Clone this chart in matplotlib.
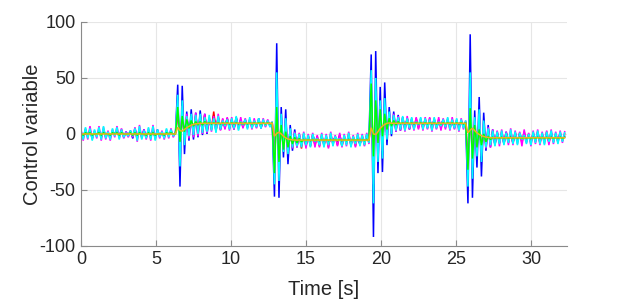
import numpy as np
import matplotlib
matplotlib.use("Agg")
import matplotlib.pyplot as plt

plt.rcParams['font.family'] = ['Liberation Sans', 'DejaVu Sans']
plt.rcParams['axes.unicode_minus'] = False

dt = 0.15
x_ticks = [0, 5, 10, 15, 20, 25, 30]
y_ticks = [-100, -50, 0, 50, 100]
x_label = "Time [s]"
y_label = "Control variable"

blue = [1, -3, 4, -2, 3, -4, 2, -1, 3, -3, 4, -2, 1, -3, 2, 0, 3, -2, 4, -3, 2, -1, 3, -4, 5, -3, 2, -2, 4, -3, 3, -1, 2, -3, 4, -2, 1, -2, 3, -1, 2, -1, 1,
        44, -47, 43, -18, 20, -6, 22, -5, 19, -3, 21, -1, 18, 0, 13, 5, 17, 3, 15, 4, 11, 7, 14, 5, 13, 4, 15, 6, 10, 8, 13, 6, 12, 7, 11, 6, 14, 5, 11, 8, 12, 7, 10,
        -56, 81, -57, 24, -21, 22, -27, 8, -15, 4, -12, 0, -10, -1, -11, -2, -9, -1, -6, -4, -8, -2, -9, -3, -8, -5, -6, -3, -7, -1, -9, -3, -8, -2, -9, -4, -6, -5, -9, -3, -7, -2, -6,
        71, -92, 74, -35, 42, -34, 46, -10, 24, -2, 20, 2, 17, 3, 15, 5, 14, 4, 13, 6, 11, 8, 12, 6, 13, 5, 12, 7, 13, 6, 10, 8, 13, 6, 12, 7, 11, 5, 12, 6, 12, 7, 10,
        -62, 89, -57, 21, -30, 33, -38, 19, -15, 8, -12, 4, -10, 2, -8, 1, -9, 2, -7, 0, -8, 1, -6, 0, -4, -2, -6, -1, -7, 0, -6, 1, -7, -1, -6, 0, -7, 1, -6, -1, -5, 0, -5, -2]

red = [2, -3, 3, -2, 4, -3, 2, -2, 4, -3, 3, -3, 2, -3, 3, -1, 4, -3, 3, -2, 1, -2, 2, -1, 3, -4, 4, -3, 2, -3, 3, -3, 4, -3, 2, -2, 2, -3, 2, -2, 3, -2, 1,
       20, -12, 18, -3, 15, 0, 14, 1, 16, 2, 15, 2, 17, 3, 14, 4, 20, 3, 15, 4, 13, 5, 14, 5, 13, 5, 14, 6, 13, 6, 12, 6, 13, 6, 12, 7, 12, 7, 12, 7, 11, 8, 10,
       -20, 25, -18, 10, -10, 8, -12, 2, -11, 0, -10, -1, -13, 0, -10, -2, -11, -1, -10, -2, -11, -1, -10, -2, -12, 0, -9, -2, -10, -1, -11, -2, -9, 0, -10, -2, -11, -1, -9, -2, -10, -1, -8,
       28, -30, 25, -10, 18, -8, 18, 0, 16, 3, 15, 4, 14, 5, 13, 4, 14, 5, 13, 5, 14, 5, 13, 5, 13, 6, 14, 4, 13, 5, 13, 5, 12, 6, 13, 5, 13, 6, 12, 5, 12, 6, 11,
       -25, 28, -20, 8, -12, 12, -14, 6, -10, 3, -9, 2, -9, 1, -8, 2, -8, 1, -8, 2, -8, 1, -7, 1, -8, 2, -7, 0, -8, 1, -7, 2, -8, 0, -7, 2, -8, 1, -7, 0, -7, 1, -6, 0]

magenta = [4, -6, 5, -5, 7, -5, 3, -4, 7, -6, 6, -5, 3, -6, 4, -3, 7, -4, 5, -4, 2, -3, 2, -3, 6, -7, 8, -4, 4, -5, 5, -6, 8, -5, 3, -4, 3, -5, 4, -4, 5, -3, 1,
           30, -22, 25, -8, 18, -4, 16, -3, 19, -2, 17, 0, 18, 1, 15, 2, 16, 2, 18, 3, 14, 4, 15, 3, 15, 4, 14, 4, 15, 5, 14, 5, 13, 4, 14, 5, 13, 6, 14, 6, 13, 7, 11,
           -35, 40, -30, 14, -14, 12, -16, 4, -13, 2, -12, 1, -11, 2, -13, 0, -11, 1, -12, -1, -12, 1, -11, 0, -13, 2, -10, -1, -11, 1, -12, 0, -11, 2, -11, -1, -12, 1, -10, 0, -11, 1, -9,
           40, -45, 38, -18, 25, -15, 24, -3, 18, 1, 18, 2, 16, 3, 15, 2, 16, 4, 14, 3, 15, 4, 14, 3, 15, 4, 15, 2, 14, 4, 15, 3, 14, 4, 14, 3, 15, 4, 13, 2, 14, 4, 12,
           -35, 40, -30, 12, -16, 18, -20, 10, -13, 6, -12, 4, -10, 3, -11, 4, -9, 2, -10, 5, -10, 3, -9, 2, -11, 4, -8, 1, -11, 3, -9, 4, -10, 2, -9, 3, -10, 4, -9, 2, -8, 3, -8, 2]

cyan = [3, -5, 6, -4, 5, -6, 4, -3, 6, -5, 7, -4, 2, -5, 5, -2, 6, -5, 4, -3, 1, -2, 3, -2, 5, -6, 7, -5, 3, -4, 6, -5, 7, -6, 4, -3, 2, -4, 5, -3, 4, -2, 1,
        35, -29, 30, -10, 16, -2, 18, -1, 17, 0, 18, 1, 15, 2, 17, 3, 14, 1, 16, 4, 12, 7, 13, 4, 14, 5, 16, 3, 11, 8, 13, 4, 15, 5, 12, 6, 14, 5, 13, 7, 12, 6, 11,
        -45, 55, -42, 18, -16, 14, -18, 5, -12, 1, -11, 0, -12, 1, -10, -1, -12, 0, -7, -4, -10, 0, -12, -1, -10, 1, -11, -2, -6, -4, -11, -1, -10, 1, -12, -2, -9, 0, -11, -1, -10, 0, -8,
        57, -62, 50, -25, 30, -22, 32, -5, 20, 0, 17, 3, 15, 4, 16, 3, 14, 5, 15, 4, 11, 8, 15, 4, 14, 5, 13, 3, 15, 5, 11, 7, 13, 6, 15, 4, 13, 5, 14, 3, 13, 5, 12,
        -47, 55, -40, 15, -20, 22, -25, 12, -12, 5, -10, 3, -11, 2, -9, 3, -10, 1, -8, 4, -9, 2, -10, 1, -5, -1, -9, 0, -10, 2, -8, 3, -9, 1, -10, 2, -7, 3, -8, 1, -9, 2, -7, 1]

green = [0, -1, 1, 0, 1, -1, 0, 0, 1, -1, 1, 0, 0, -1, 1, 0, 1, -1, 1, 0, 0, 0, 1, -1, 1, -1, 1, 0, 0, -1, 1, -1, 1, -1, 0, 0, 0, -1, 1, 0, 1, 0, 0,
         24, -7, 16, 2, 13, 5, 12, 7, 11, 8, 11, 8, 11, 9, 10, 9, 10, 9, 10, 9, 10, 9, 10, 9, 10, 9, 10, 9, 10, 9, 10, 9, 10, 9, 10, 9, 10, 9, 10, 9, 10, 9, 10,
         -35, 24, -25, 8, -14, 2, -12, -2, -9, -3, -8, -4, -7, -5, -6, -5, -6, -5, -6, -5, -6, -5, -6, -5, -6, -5, -6, -5, -6, -5, -6, -5, -6, -5, -6, -5, -6, -5, -6, -5, -6, -5, -6,
         45, -20, 30, -8, 22, -2, 18, 4, 14, 7, 12, 8, 11, 9, 10, 9, 10, 9, 10, 9, 10, 9, 10, 9, 10, 9, 10, 9, 10, 9, 10, 9, 10, 9, 10, 9, 10, 9, 10, 9, 10, 9, 10,
         -32, 23, -22, 8, -12, 4, -10, 0, -7, -2, -5, -3, -4, -3, -4, -3, -4, -3, -4, -3, -4, -3, -4, -3, -4, -3, -4, -3, -4, -3, -4, -3, -4, -3, -4, -3, -4, -3, -4, -3, -4, -3, -4, -3]

orange = ([0.0] * 43
          + [6, 3, 2.5, 4, 5.5, 6.8, 7.8, 8.5, 9, 9.3] + [9.5] * 33
          + [-2, 0.5, 1.5, 0, -2, -3.5, -4.5, -5, -5.3, -5.5] + [-5.5] * 33
          + [5.5, 0, -0.5, 2, 5, 7, 8.5, 9.5, 9.8, 9.6] + [9.5] * 33
          + [1, 3.5, 5, 3, 1, -0.5, -1.5, -2.3, -2.8, -3.1] + [-3.4] * 34)

series = [(blue, '#0000ff'), (red, '#ff0000'), (magenta, '#ff00ff'),
          (cyan, '#00ffff'), (green, '#00ff00'), (orange, '#edb120')]

fig = plt.figure(figsize=(6.23, 3.01), dpi=100)
ax = fig.add_axes([0.130, 0.183, 0.780, 0.744])

for vals, col in series:
    t = np.arange(len(vals)) * dt
    ax.plot(t, vals, color=col, lw=1.1, solid_joinstyle='miter')

ax.set_xlim(0, 32.4)
ax.set_ylim(-100, 100)
ax.set_xticks(x_ticks)
ax.set_yticks(y_ticks)
ax.grid(True, color='#e6e6e6', lw=0.8)
ax.set_axisbelow(True)
for s in ['top', 'right']:
    ax.spines[s].set_visible(False)
for s in ['left', 'bottom']:
    ax.spines[s].set_color('#8a8a8a')
    ax.spines[s].set_linewidth(0.8)
ax.tick_params(direction='in', length=4, color='#8a8a8a', labelsize=13, labelcolor='#262626', pad=4)
ax.set_xlabel(x_label, fontsize=14.5, color='#262626', labelpad=8)
ax.set_ylabel(y_label, fontsize=14.5, color='#262626', labelpad=-2)

fig.savefig("out.png", dpi=100)
